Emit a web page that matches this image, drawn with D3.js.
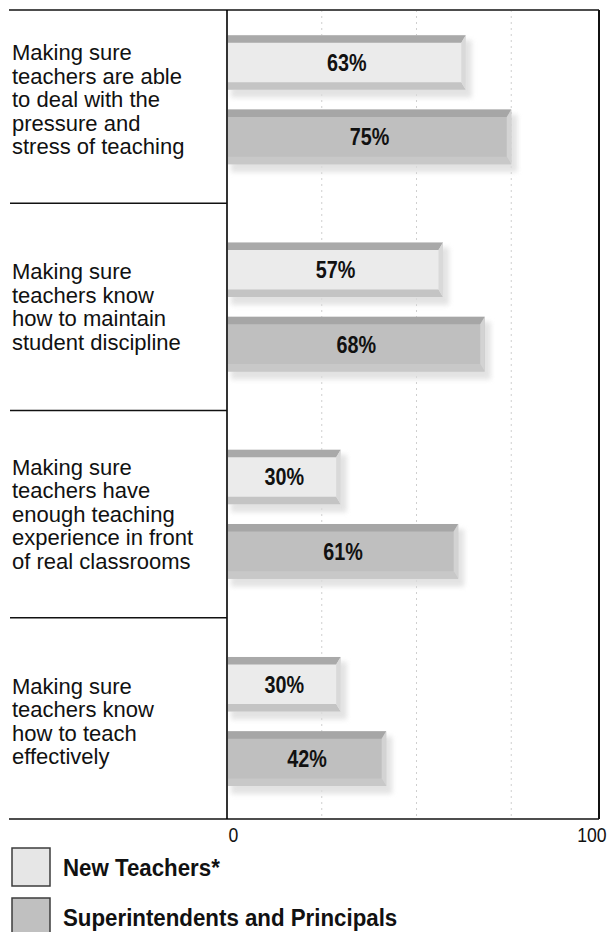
<!DOCTYPE html>
<html>
<head>
<meta charset="utf-8">
<script src="https://cdn.jsdelivr.net/npm/d3@7"></script>
<style>
  html, body { margin: 0; padding: 0; background: #fff; }
  svg { display: block; }
  text { font-family: "Liberation Sans", Arial, Helvetica, sans-serif; fill: #111; }
</style>
</head>
<body>
<svg id="chart" width="613" height="932"></svg>
<script>
// Survey items, one per group (each stored as its wrapped lines)
const categoryLines = [
  ["Making sure", "teachers are able", "to deal with the", "pressure and", "stress of teaching"],
  ["Making sure", "teachers know", "how to maintain", "student discipline"],
  ["Making sure", "teachers have", "enough teaching", "experience in front", "of real classrooms"],
  ["Making sure", "teachers know", "how to teach", "effectively"]
];
const seriesNames = ["New Teachers*", "Superintendents and Principals"];
const newTeachers = [63, 57, 30, 30];
const leaders = [75, 68, 61, 42];
const xTickValues = [0, 100];
const gridValues = [25, 50, 75];

const plotTop = 10, plotBottom = 819, frameLeft = 9, frameRight = 599;

const svg = d3.select("#chart");

const x = d3.scaleLinear().domain([0, 100]).range([227, 606]);
const groupIdx = d3.range(categoryLines.length);
const yGroup = d3.scaleBand().domain(groupIdx).range([plotTop - 14, plotBottom + 6]).paddingInner(0);
const ySeries = d3.scaleBand().domain([0, 1]).range([-64.5, 64.5]).paddingInner(0.268);

const series = [
  { name: seriesNames[0], values: newTeachers, top: "#a9a9a9", face: "#ebebeb", bottom: "#c4c4c4", side: "#d9d9d9", swatch: "#e6e6e6" },
  { name: seriesNames[1], values: leaders,     top: "#a6a6a6", face: "#bfbfbf", bottom: "#c8c8c8", side: "#d3d3d3", swatch: "#c0c0c0" }
];

// soft drop shadow behind the bars
const defs = svg.append("defs");
defs.append("filter").attr("id", "soft").attr("x", "-20%").attr("y", "-40%").attr("width", "140%").attr("height", "180%")
  .append("feGaussianBlur").attr("stdDeviation", 2.5);

// dotted gridlines
svg.append("g").selectAll("line").data(gridValues).join("line")
  .attr("x1", d => x(d)).attr("x2", d => x(d))
  .attr("y1", plotTop).attr("y2", plotBottom)
  .attr("stroke", "#cfcfcf").attr("stroke-width", 1).attr("stroke-dasharray", "2,4");

// bars with bevelled edges
const bars = [];
series.forEach((s, si) => {
  s.values.forEach((v, gi) => bars.push({ s, si, gi, v }));
});

const barG = svg.append("g");
const bevelTop = 7.5, bevelBottom = 7.5, bevelSide = 4.5;
const poly = pts => pts.map(p => p.join(",")).join(" ");
bars.forEach(d => {
  const x0 = x(0) + 1, x1 = x(d.v);
  const yc = yGroup(d.gi) + yGroup.bandwidth() / 2;
  const y0 = yc + ySeries(d.si), h = ySeries.bandwidth(), y1 = y0 + h;
  const g = barG.append("g");
  g.append("rect").attr("x", x0 + 3).attr("y", y0 + 5).attr("width", x1 - x0 + 3).attr("height", h + 3)
    .attr("fill", "#dcdcdc").attr("filter", "url(#soft)").attr("opacity", 0.8);
  g.append("rect").attr("x", x0).attr("y", y0).attr("width", x1 - x0).attr("height", h).attr("fill", d.s.face);
  g.append("polygon").attr("points", poly([[x0, y0], [x1, y0], [x1 - bevelSide, y0 + bevelTop], [x0, y0 + bevelTop]])).attr("fill", d.s.top);
  g.append("polygon").attr("points", poly([[x0, y1 - bevelBottom], [x1 - bevelSide, y1 - bevelBottom], [x1, y1], [x0, y1]])).attr("fill", d.s.bottom);
  g.append("polygon").attr("points", poly([[x1 - bevelSide, y0 + bevelTop], [x1, y0], [x1, y1], [x1 - bevelSide, y1 - bevelBottom]])).attr("fill", d.s.side);
  g.append("text")
    .attr("transform", `translate(${(x0 + x1) / 2},${y0 + h / 2 + 8.5}) scale(0.86,1)`)
    .attr("text-anchor", "middle")
    .style("font-weight", "bold").style("font-size", "23px")
    .text(d.v + "%");
});

// frame: top rule, bottom rule, zero axis and right edge
svg.append("line").attr("x1", frameLeft).attr("x2", frameRight).attr("y1", plotTop).attr("y2", plotTop)
  .attr("stroke", "#4d4d4d").attr("stroke-width", 2);
svg.append("line").attr("x1", frameLeft).attr("x2", frameRight).attr("y1", plotBottom).attr("y2", plotBottom)
  .attr("stroke", "#4d4d4d").attr("stroke-width", 2);
svg.append("line").attr("x1", x(0)).attr("x2", x(0)).attr("y1", plotTop).attr("y2", plotBottom)
  .attr("stroke", "#000").attr("stroke-width", 1.6);
svg.append("line").attr("x1", frameRight).attr("x2", frameRight).attr("y1", plotTop).attr("y2", plotBottom)
  .attr("stroke", "#111").attr("stroke-width", 2);

// separators between the item labels
svg.append("g").selectAll("line").data(groupIdx.slice(1)).join("line")
  .attr("x1", frameLeft + 1).attr("x2", x(0))
  .attr("y1", d => yGroup(d)).attr("y2", d => yGroup(d))
  .attr("stroke", "#111").attr("stroke-width", 1.5);

// item labels
const lineH = 23.5;
const labelG = svg.append("g");
categoryLines.forEach((lines, gi) => {
  const yc = yGroup(gi) + yGroup.bandwidth() / 2;
  const first = yc - (lines.length - 1) / 2 * lineH + 7.5;
  labelG.append("text").attr("x", 12).attr("y", first).style("font-size", "22px")
    .selectAll("tspan").data(lines).join("tspan")
    .attr("x", 12).attr("y", (d, i) => first + i * lineH).text(d => d);
});

// x axis labels
const axis = svg.append("g").attr("transform", `translate(0,${plotBottom})`)
  .call(d3.axisBottom(x).tickValues(xTickValues).tickSize(0));
axis.attr("font-size", 20).attr("font-family", "'Liberation Sans', Arial, sans-serif");
axis.select(".domain").remove();
axis.selectAll(".tick line").remove();
axis.selectAll("text")
  .attr("y", 23).attr("dy", 0)
  .attr("fill", "#111")
  .attr("font-size", 20)
  .attr("text-anchor", (d, i) => i === 0 ? "start" : "end")
  .attr("x", (d, i) => i === 0 ? 1 : 0)
  .attr("transform", "scale(0.88,1)")
  .style("font-size", "20px");

// legend
const legend = svg.append("g");
series.forEach((s, i) => {
  const ly = 848 + i * 50;
  legend.append("rect").attr("x", 12).attr("y", ly).attr("width", 38).attr("height", 38)
    .attr("fill", s.swatch).attr("stroke", "#3c3c3c").attr("stroke-width", 1.5);
  legend.append("text")
    .attr("transform", `translate(63,${ly + 28}) scale(0.91,1)`)
    .style("font-weight", "bold").style("font-size", "24.5px")
    .text(s.name);
});
</script>
</body>
</html>
